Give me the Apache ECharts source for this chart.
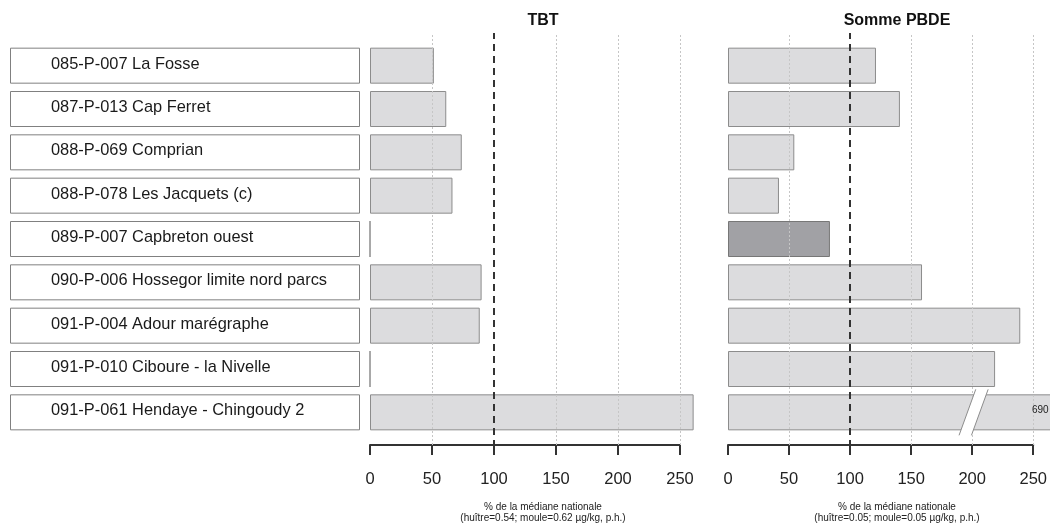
<!DOCTYPE html>
<html>
<head>
<meta charset="utf-8">
<script src="https://cdn.jsdelivr.net/npm/echarts@6/dist/echarts.min.js"></script>
<style>
html,body{margin:0;padding:0;background:#fff;}
#chart{width:1050px;height:531px;}
</style>
</head>
<body>
<div id="chart"></div>
<script>
// ---- data ----
const categories = [
  '085-P-007 La Fosse',
  '087-P-013 Cap Ferret',
  '088-P-069 Comprian',
  '088-P-078 Les Jacquets (c)',
  '089-P-007 Capbreton ouest',
  '090-P-006 Hossegor limite nord parcs',
  '091-P-004 Adour marégraphe',
  '091-P-010 Ciboure - la Nivelle',
  '091-P-061 Hendaye - Chingoudy 2'
];
const tbtValues  = [51.5, 61.5, 74, 66.5, 0, 90, 88.5, 0, 261];
const pbdeValues = [120.5, 140, 54, 41.5, 83, 158, 238, 217.5, 690];
const pbdeHighlighted = [false, false, false, false, true, false, false, false, false];
const panelTitles = ['TBT', 'Somme PBDE'];
const axisCaptions = [
  '% de la médiane nationale\n(huître=0.54; moule=0.62 µg/kg, p.h.)',
  '% de la médiane nationale\n(huître=0.05; moule=0.05 µg/kg, p.h.)'
];
const axisMin = 0, axisMax = 250, axisStep = 50;
const referenceValue = 100;
const gridValues = [50, 150, 200, 250];
const pbdeBreakAt = 200;

// ---- layout / style ----
const FONT = "'Liberation Sans', Arial, sans-serif";
const barTop = 44, barH = 390, frameTop = 33, frameH = 412;
const panels = [{left: 370, width: 310}, {left: 728, width: 307}];
const barFill = '#dcdcde', barBorder = '#8c8c8c';
const darkFill = '#a1a1a5', darkBorder = '#777';

const grids = [
  {left: 10, width: 350, top: barTop, height: barH},
  {left: panels[0].left, width: panels[0].width, top: barTop, height: barH},
  {left: panels[0].left, width: panels[0].width, top: frameTop, height: frameH},
  {left: panels[1].left, width: panels[1].width, top: barTop, height: barH},
  {left: panels[1].left, width: panels[1].width, top: frameTop, height: frameH}
];

function hiddenValueX(g, max) {
  return {gridIndex: g, type: 'value', min: 0, max: max, show: false};
}
function frameX(g) {
  return {
    gridIndex: g, type: 'value', min: axisMin, max: axisMax, interval: axisStep,
    position: 'bottom',
    axisLine: {show: true, lineStyle: {color: '#333', width: 2}},
    axisTick: {show: true, length: 10, inside: false, lineStyle: {color: '#333', width: 2}},
    axisLabel: {show: true, fontSize: 16.5, color: '#222', fontFamily: FONT, margin: 26},
    splitLine: {show: false}
  };
}
function catY(g) {
  return {gridIndex: g, type: 'category', data: categories, inverse: true, show: false};
}
function frameY(g) {
  return {gridIndex: g, type: 'value', min: 0, max: 1, show: false};
}

function frameSeries(xi, yi) {
  return {
    type: 'scatter', xAxisIndex: xi, yAxisIndex: yi, data: [[0, 0]], symbolSize: 0,
    silent: true, z: 5,
    markLine: {
      silent: true, symbol: 'none', label: {show: false}, z: 5,
      data: gridValues.map(v => ({xAxis: v, lineStyle: {type: [2, 2], color: '#c6c6c6', width: 1}}))
        .concat([{xAxis: referenceValue, lineStyle: {type: [7, 5], dashOffset: 2, color: '#333', width: 2}}])
    }
  };
}

const option = {
  animation: false,
  backgroundColor: '#fff',
  grid: grids,
  xAxis: [hiddenValueX(0, 1), hiddenValueX(1, axisMax), frameX(2), hiddenValueX(3, axisMax), frameX(4)],
  yAxis: [catY(0), catY(1), frameY(2), catY(3), frameY(4)],
  graphic: [
    {type: 'text', x: 543, y: 21, style: {text: panelTitles[0], font: 'bold 16px ' + FONT, fill: '#111', textAlign: 'center', textVerticalAlign: 'middle', align: 'center', verticalAlign: 'middle'}},
    {type: 'text', x: 897, y: 21, style: {text: panelTitles[1], font: 'bold 16px ' + FONT, fill: '#111', textAlign: 'center', textVerticalAlign: 'middle', align: 'center', verticalAlign: 'middle'}},
    {type: 'text', x: 543, y: 513, style: {text: axisCaptions[0], font: '10px ' + FONT, lineHeight: 11, fill: '#222', textAlign: 'center', textVerticalAlign: 'middle', align: 'center', verticalAlign: 'middle'}},
    {type: 'text', x: 897, y: 513, style: {text: axisCaptions[1], font: '10px ' + FONT, lineHeight: 11, fill: '#222', textAlign: 'center', textVerticalAlign: 'middle', align: 'center', verticalAlign: 'middle'}}
  ],
  series: [
    {
      type: 'bar', xAxisIndex: 0, yAxisIndex: 0, barWidth: 36, silent: true,
      data: categories.map(() => 1),
      itemStyle: {color: '#fff', borderColor: '#808080', borderWidth: 1},
      label: {
        show: true, position: 'insideLeft', distance: 41, offset: [0, -1.5],
        formatter: p => categories[p.dataIndex],
        fontSize: 16.4, color: '#1a1a1a', fontFamily: FONT
      }
    },
    {
      type: 'bar', xAxisIndex: 1, yAxisIndex: 1, barWidth: 36, clip: false, silent: true, z: 2,
      data: tbtValues,
      itemStyle: {color: barFill, borderColor: barBorder, borderWidth: 1}
    },
    {
      type: 'bar', xAxisIndex: 3, yAxisIndex: 3, barWidth: 36, clip: false, silent: true, z: 2,
      data: pbdeValues.map((v, i) => ({
        value: v,
        itemStyle: pbdeHighlighted[i]
          ? {color: darkFill, borderColor: darkBorder, borderWidth: 1}
          : {color: barFill, borderColor: barBorder, borderWidth: 1}
      }))
    },
    {
      type: 'custom', xAxisIndex: 3, yAxisIndex: 3, silent: true, z: 6, clip: false,
      data: pbdeValues.map((v, i) => [pbdeBreakAt, i, v]).filter(d => d[2] > axisMax),
      renderItem: function (params, api) {
        const c = api.coord([api.value(0), api.value(1)]);
        const endC = api.coord([axisMax, api.value(1)]);
        const cx = c[0], cy = c[1];
        const h = 23, s = 0.363 * h, g = 6.2;
        return {
          type: 'group',
          children: [
            {type: 'polygon', shape: {points: [
              [cx - g - s, cy + h], [cx - g + s, cy - h], [cx + g + s, cy - h], [cx + g - s, cy + h]
            ]}, style: {fill: '#fff'}},
            {type: 'line', shape: {x1: cx - g - s, y1: cy + h, x2: cx - g + s, y2: cy - h}, style: {stroke: '#8c8c8c', lineWidth: 1}},
            {type: 'line', shape: {x1: cx + g - s, y1: cy + h, x2: cx + g + s, y2: cy - h}, style: {stroke: '#8c8c8c', lineWidth: 1}},
            {type: 'text', x: endC[0] - 3, y: cy - 2, style: {
              text: String(api.value(2)), fill: '#222', font: '10px ' + FONT,
              textAlign: 'left', textVerticalAlign: 'middle', align: 'left', verticalAlign: 'middle'
            }}
          ]
        };
      }
    },
    frameSeries(2, 2),
    frameSeries(4, 4)
  ]
};

const chart = echarts.init(document.getElementById('chart'), null, {renderer: 'canvas'});
chart.setOption(option);
</script>
</body>
</html>
